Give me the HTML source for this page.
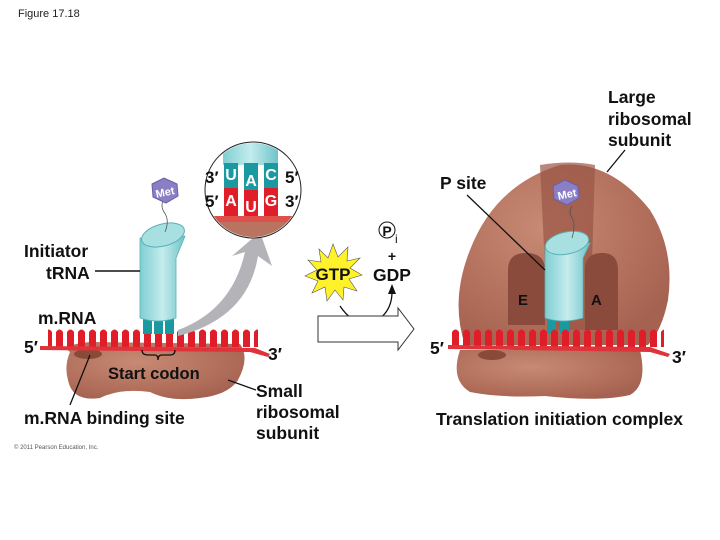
<!DOCTYPE html>
<html><head><meta charset="utf-8"><style>
html,body{margin:0;padding:0;background:#fff;}
svg{display:block;font-family:"Liberation Sans",Arial,sans-serif;}
.b{font-weight:bold;fill:#111;}
</style></head><body>
<svg width="720" height="540" viewBox="0 0 720 540" xmlns="http://www.w3.org/2000/svg">
<defs>
<pattern id="teeth" x="0" y="327" width="11" height="20" patternUnits="userSpaceOnUse">
<path d="M1 20 V5 Q4.5 0 8 5 V20 Z" fill="#e01e2a"/>
</pattern>
<linearGradient id="cyl" x1="0" x2="1"><stop offset="0" stop-color="#7fcfd2"/><stop offset="0.5" stop-color="#c4ecee"/><stop offset="1" stop-color="#6fc4c8"/></linearGradient>
<radialGradient id="rib" cx="0.4" cy="0.35" r="0.7"><stop offset="0" stop-color="#c88a74"/><stop offset="1" stop-color="#a66250"/></radialGradient>
</defs>
<text x="18" y="17" font-size="11" fill="#222">Figure 17.18</text>

<!-- LEFT small subunit -->
<path d="M70 352 Q60 345 90 342 L240 344 Q250 358 238 380 Q228 395 200 398 Q170 402 150 392 Q120 388 100 398 Q72 402 68 380 Q64 366 70 352 Z" fill="url(#rib)"/>
<ellipse cx="88" cy="354" rx="14" ry="5" fill="#8a4a3a"/>
<rect x="48" y="327" width="210" height="20" fill="url(#teeth)"/>
<path d="M40 346 L255 348 L270 354 L268 357 L250 352 L40 350 Z" fill="#e0323a"/>
<!-- tRNA left -->
<rect x="143" y="312" width="9" height="22" fill="#1a9aa0"/><rect x="154" y="312" width="9" height="22" fill="#1a9aa0"/><rect x="165" y="312" width="9" height="22" fill="#1a9aa0"/>
<path d="M140 238 L140 318 Q158 324 176 318 L176 258 L185 236 Z" fill="url(#cyl)" stroke="#5ab0b4" stroke-width="0.8"/>
<ellipse cx="163" cy="235" rx="22" ry="11" transform="rotate(-15 163 235)" fill="#a8e0e2" stroke="#5ab0b4"/>
<path d="M165 232 Q170 220 164 212 Q160 205 164 200" fill="none" stroke="#555" stroke-width="0.8"/>
<polygon points="152,184 164,178 177,184 178,196 166,203 153,197" fill="#8a7fc4" stroke="#6a5fa6"/>
<text x="165" y="196" font-size="11" font-weight="bold" fill="#fff" text-anchor="middle" transform="rotate(-12 165 192)">Met</text>
<!-- gray arrow -->
<path d="M178 330 Q232 310 245 252 L232 256 L260 232 L272 266 L258 256 Q248 318 178 336 Z" fill="#b4b4b8"/>
<!-- inset circle -->
<circle cx="253" cy="190" r="48" fill="#fff" stroke="#222" stroke-width="1"/>
<clipPath id="cc"><circle cx="253" cy="190" r="47"/></clipPath>
<g clip-path="url(#cc)">
<rect x="223" y="140" width="55" height="25" fill="url(#cyl)"/>
<rect x="224" y="163" width="14" height="30" fill="#1a9aa0"/><rect x="244" y="163" width="14" height="30" fill="#1a9aa0"/><rect x="264" y="163" width="14" height="30" fill="#1a9aa0"/>
<rect x="224" y="188" width="14" height="30" fill="#e01e2a"/><rect x="244" y="190" width="14" height="28" fill="#e01e2a"/><rect x="264" y="188" width="14" height="30" fill="#e01e2a"/>
<rect x="200" y="216" width="110" height="6" fill="#e0504a"/>
<rect x="200" y="222" width="110" height="20" fill="#b87460"/>
</g>
<g class="b" font-size="17">
<text x="205" y="183">3′</text><text x="285" y="183">5′</text>
<text x="205" y="207">5′</text><text x="285" y="207">3′</text>
</g>
<g font-size="16" font-weight="bold" fill="#fff" text-anchor="middle">
<text x="231" y="180">U</text><text x="251" y="186">A</text><text x="271" y="180">C</text>
<text x="231" y="206">A</text><text x="251" y="212">U</text><text x="271" y="206">G</text>
</g>

<!-- left labels -->
<g class="b" font-size="17.5">
<text x="24" y="257">Initiator</text>
<text x="46" y="279">tRNA</text>
<text x="38" y="324">m.RNA</text>
<text x="24" y="353">5′</text>
<text x="268" y="360">3′</text>
<text x="108" y="379" font-size="16.5">Start codon</text>
<text x="24" y="424">m.RNA binding site</text>
<text x="256" y="397">Small</text>
<text x="256" y="418">ribosomal</text>
<text x="256" y="439">subunit</text>
</g>
<line x1="95" y1="271" x2="140" y2="271" stroke="#111" stroke-width="1.5"/>
<line x1="70" y1="405" x2="90" y2="355" stroke="#111" stroke-width="1.3"/>
<line x1="228" y1="380" x2="256" y2="390" stroke="#111" stroke-width="1.3"/>
<path d="M142 350 Q142 355 148 355 L155 355 Q158 355 158 360 Q158 355 162 355 L170 355 Q175 355 175 350" fill="none" stroke="#111" stroke-width="1.3"/>
<text x="14" y="449" font-size="6" fill="#555">© 2011 Pearson Education, Inc.</text>

<!-- GTP -->
<polygon points="333,244 338,257 348,247 347,261 360,258 350,268 362,275 349,279 357,291 344,287 343,300 335,290 327,301 325,287 312,293 318,281 305,276 317,270 308,260 321,262 319,249 328,258" fill="#fff22a" stroke="#555" stroke-width="0.6"/>
<text x="333" y="280" class="b" font-size="17" text-anchor="middle">GTP</text>
<circle cx="387" cy="230" r="8" fill="#fff" stroke="#111"/>
<text x="387" y="236" class="b" font-size="14" text-anchor="middle">P</text>
<text x="395" y="243" font-size="12" fill="#111">i</text>
<text x="392" y="261" class="b" font-size="14" text-anchor="middle">+</text>
<text x="392" y="281" class="b" font-size="17.5" text-anchor="middle">GDP</text>
<path d="M340 306 Q356 330 378 320 Q392 310 392 292" fill="none" stroke="#111" stroke-width="1.3"/>
<polygon points="388,294 392,284 396,294" fill="#111"/>
<path d="M318 316 L398 316 L398 308 L414 329 L398 350 L398 342 L318 342 Z" fill="#fff" stroke="#333" stroke-width="1"/>

<!-- RIGHT ribosome -->
<path d="M460 350 Q450 380 470 392 Q500 398 545 396 Q600 402 630 395 Q648 385 640 350 Z" fill="url(#rib)"/>
<path d="M465 345 Q450 300 470 250 Q495 185 560 165 Q610 160 650 210 Q675 250 668 300 Q662 330 648 345 Z" fill="url(#rib)"/>
<path d="M540 165 L548 330 L590 330 L595 165 Q570 160 540 165 Z" fill="#9a5646" opacity="0.7"/>
<path d="M508 325 V270 Q508 253 526 253 Q545 253 545 270 V325 Z" fill="#8a4a3c"/>
<path d="M585 330 V270 Q585 253 602 253 Q618 253 618 270 V330 Z" fill="#8a4a3c"/>
<ellipse cx="492" cy="355" rx="14" ry="5" fill="#8a4a3a"/>
<rect x="547" y="312" width="9" height="22" fill="#1a9aa0"/><rect x="560" y="312" width="9" height="22" fill="#1a9aa0"/>
<path d="M545 245 L545 318 Q563 324 583 318 L583 258 L590 243 Z" fill="url(#cyl)" stroke="#5ab0b4" stroke-width="0.8"/>
<ellipse cx="567" cy="243" rx="22" ry="11" transform="rotate(-12 567 243)" fill="#a8e0e2" stroke="#5ab0b4"/>
<path d="M572 238 Q576 225 572 218 Q568 212 572 206" fill="none" stroke="#555" stroke-width="0.8"/>
<polygon points="553,186 565,180 578,186 579,198 567,205 554,199" fill="#8a7fc4" stroke="#6a5fa6"/>
<text x="567" y="198" font-size="11" font-weight="bold" fill="#fff" text-anchor="middle" transform="rotate(-12 567 194)">Met</text>
<rect x="452" y="327" width="212" height="20" fill="url(#teeth)"/>
<path d="M448 345 L650 347 L670 354 L668 357 L650 352 L448 349 Z" fill="#e0323a"/>
<g class="b" font-size="17.5">
<text x="608" y="103">Large</text>
<text x="608" y="125">ribosomal</text>
<text x="608" y="146">subunit</text>
<text x="440" y="189">P site</text>
<text x="518" y="305" font-size="15">E</text>
<text x="591" y="305" font-size="15">A</text>
<text x="430" y="354">5′</text>
<text x="672" y="363">3′</text>
<text x="436" y="425">Translation initiation complex</text>
</g>
<line x1="625" y1="150" x2="607" y2="172" stroke="#111" stroke-width="1.3"/>
<line x1="467" y1="195" x2="545" y2="270" stroke="#111" stroke-width="1.3"/>
</svg>
</body></html>
